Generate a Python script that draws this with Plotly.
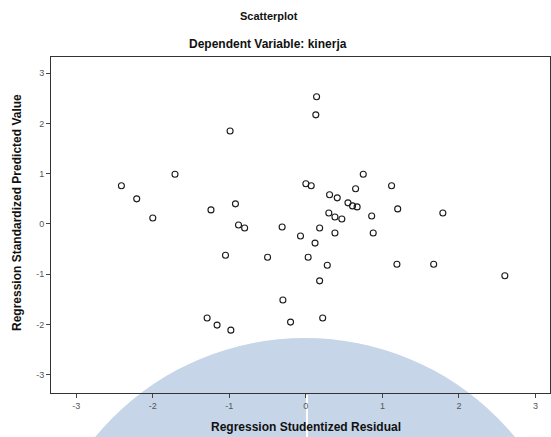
import plotly.graph_objects as go

# Regression Studentized Residual (x) and Regression Standardized Predicted Value (y)
residual = [-2.41, -2.21, -2.00, -1.71, -0.99, -1.24, -0.92, -0.88, -0.80, -0.31,
            -1.05, -0.50, -1.29, -1.16, -0.98, -0.30, -0.20, 0.14, 0.13, 0.00,
            0.07, -0.07, 0.12, 0.03, 0.18, 0.18, 0.28, 0.22, 0.31, 0.41,
            0.30, 0.38, 0.47, 0.38, 0.55, 0.61, 0.65, 0.75, 0.86, 0.88,
            1.12, 1.20, 1.79, 1.19, 1.67, 2.60, 0.67]
predicted = [0.76, 0.50, 0.12, 0.99, 1.85, 0.28, 0.40, -0.02, -0.08, -0.06,
             -0.62, -0.66, -1.87, -2.01, -2.11, -1.51, -1.95, 2.53, 2.17, 0.80,
             0.76, -0.24, -0.38, -0.66, -0.08, -1.13, -0.82, -1.87, 0.58, 0.52,
             0.22, 0.14, 0.10, -0.18, 0.42, 0.36, 0.70, 0.99, 0.16, -0.18,
             0.76, 0.30, 0.22, -0.80, -0.80, -1.03, 0.34]

x_ticks = [-3, -2, -1, 0, 1, 2, 3]
x_tick_labels = ["-3", "-2", "-1", "0", "1", "2", "3"]
y_ticks = [-3, -2, -1, 0, 1, 2, 3]
y_tick_labels = ["-3", "-2", "-1", "0", "1", "2", "3"]

title_text = "Scatterplot"
subtitle_text = "Dependent Variable: kinerja"
x_title = "Regression Studentized Residual"
y_title = "Regression Standardized Predicted Value"

W, H = 551, 437
L, R, T, B = 51, 1, 57, 44
pw, ph = W - L - R, H - T - B


def px(xp):
    return (xp - L) / pw


def py(yp):
    return (H - B - yp) / ph


FONT = "Liberation Sans, Arial, sans-serif"

fig = go.Figure()
fig.add_trace(go.Scatter(
    x=residual, y=predicted, mode="markers",
    marker=dict(symbol="circle-open", size=6, color="#1a1a1a", line=dict(width=1.1)),
    showlegend=False, hoverinfo="x+y",
))

axis_common = dict(
    showgrid=False, zeroline=False, showline=True, linecolor="#333333", linewidth=1,
    mirror=True, ticks="outside", ticklen=4, tickcolor="#444444", tickwidth=1,
    tickfont=dict(family=FONT, size=9, color="#555555"),
)

fig.update_xaxes(range=[-3.33, 3.19], tickvals=x_ticks, ticktext=x_tick_labels, **axis_common)
fig.update_yaxes(range=[-3.36, 3.32], tickvals=y_ticks, ticktext=y_tick_labels, **axis_common)

shapes = [
    dict(type="circle", xref="paper", yref="paper", layer="below",
         x0=px(33), x1=px(577), y0=py(882), y1=py(338),
         fillcolor="#c6d5e8", line=dict(width=0)),
    dict(type="line", xref="paper", yref="paper", layer="below",
         x0=px(307), x1=px(307), y0=py(395), y1=py(437),
         line=dict(color="white", width=2)),
]

annotations = [
    dict(text="<b>" + title_text + "</b>", x=px(269), y=py(16), xref="paper", yref="paper",
         showarrow=False, xanchor="center", yanchor="middle",
         font=dict(family=FONT, size=11, color="#111111")),
    dict(text="<b>" + subtitle_text + "</b>", x=px(268), y=py(44), xref="paper", yref="paper",
         showarrow=False, xanchor="center", yanchor="middle",
         font=dict(family=FONT, size=12, color="#111111")),
    dict(text="<b>" + x_title + "</b>", x=px(306), y=py(427), xref="paper", yref="paper",
         showarrow=False, xanchor="center", yanchor="middle",
         font=dict(family=FONT, size=12, color="#111111")),
    dict(text="<b>" + y_title + "</b>", x=px(17), y=py(213), xref="paper", yref="paper",
         showarrow=False, xanchor="center", yanchor="middle", textangle=-90,
         font=dict(family=FONT, size=12, color="#111111")),
]

fig.update_layout(
    width=W, height=H,
    margin=dict(l=L, r=R, t=T, b=B, pad=0),
    paper_bgcolor="white", plot_bgcolor="rgba(0,0,0,0)",
    shapes=shapes, annotations=annotations,
    showlegend=False,
)

fig.write_html(
    "out.html",
    config={"displayModeBar": False},
    post_script="document.body.style.margin='0';document.body.style.overflow='hidden';",
)
